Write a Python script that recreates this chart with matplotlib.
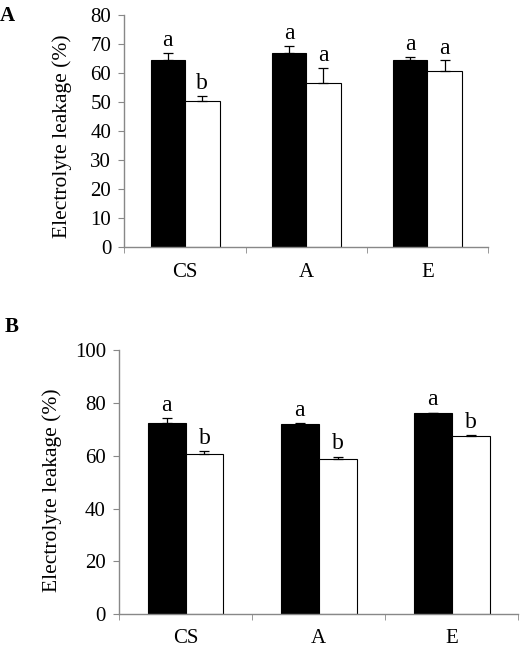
import numpy as np
import matplotlib.pyplot as plt

plt.rcParams['font.family'] = ['Liberation Serif', 'DejaVu Serif']

cats = ['CS', 'A', 'E']

# panel A
a_black = [64.4, 66.8, 64.4]
a_black_err = [2.7, 2.5, 1.3]
a_white = [50.2, 56.6, 60.9]
a_white_err = [1.9, 5.3, 3.5]
a_black_let = ['a', 'a', 'a']
a_white_let = ['b', 'a', 'a']

# panel B
b_black = [72.6, 72.2, 76.1]
b_black_err = [1.6, 0.3, 0.3]
b_white = [60.8, 58.8, 67.5]
b_white_err = [1.1, 0.9, 0.3]
b_black_let = ['a', 'a', 'a']
b_white_let = ['b', 'b', 'b']

fig = plt.figure(figsize=(5.32, 6.5), dpi=100)
axA = fig.add_axes([0.234, 0.6205, 0.683, 0.356])
axB = fig.add_axes([0.2237, 0.0554, 0.7503, 0.4057])

w = 0.285
x = np.arange(len(cats))


def panel(ax, black, berr, white, werr, blet, wlet, ymax, step, labpad, xpad):
    ax.bar(x - w / 2, black, w, color='black', edgecolor='black', lw=0.8,
           yerr=[np.zeros(3), berr], capsize=3.3,
           error_kw=dict(ecolor='black', elinewidth=0.9, capthick=0.9))
    ax.bar(x + w / 2, white, w, color='white', edgecolor='black', lw=0.8,
           yerr=[np.zeros(3), werr], capsize=3.3,
           error_kw=dict(ecolor='black', elinewidth=0.9, capthick=0.9))
    for i in range(3):
        ax.text(x[i] - w / 2, black[i] + berr[i] + labpad, blet[i],
                ha='center', va='bottom', fontsize=17)
        ax.text(x[i] + w / 2, white[i] + werr[i] + labpad, wlet[i],
                ha='center', va='bottom', fontsize=17)
    ax.set_xlim(-0.5, 2.5)
    ax.set_ylim(0, ymax)
    ax.set_yticks(np.arange(0, ymax + 1, step))
    ax.set_xticks(x)
    ax.set_xticklabels(cats)
    ax.set_xticks([-0.5, 0.5, 1.5, 2.5], minor=True)
    ax.tick_params(axis='x', which='major', length=0, pad=xpad, labelsize=15)
    ax.tick_params(axis='x', which='minor', length=4.5, color='#888888', direction='out')
    ax.tick_params(axis='y', length=4.5, color='#888888', labelsize=15, pad=5)
    for s in ['top', 'right']:
        ax.spines[s].set_visible(False)
    for s in ['left', 'bottom']:
        ax.spines[s].set_color('#888888')
        ax.spines[s].set_linewidth(1.0)


panel(axA, a_black, a_black_err, a_white, a_white_err, a_black_let, a_white_let, 80, 10, 0.6, 12)
panel(axB, b_black, b_black_err, b_white, b_white_err, b_black_let, b_white_let, 100, 20, 0.8, 11)

# y labels placed by pixel centre
fig.text(62 / 532, 1 - 136 / 650, 'Electrolyte leakage (%)', rotation=90,
         ha='center', va='center', fontsize=15.5)
fig.text(52.5 / 532, 1 - 490.5 / 650, 'Electrolyte leakage (%)', rotation=90,
         ha='center', va='center', fontsize=15.5)

fig.text(0.0, 0.975, 'A', fontsize=15, fontweight='bold', ha='left', va='center')
fig.text(0.008, 0.497, 'B', fontsize=15, fontweight='bold', ha='left', va='center')

fig.savefig('out.png', dpi=100)
